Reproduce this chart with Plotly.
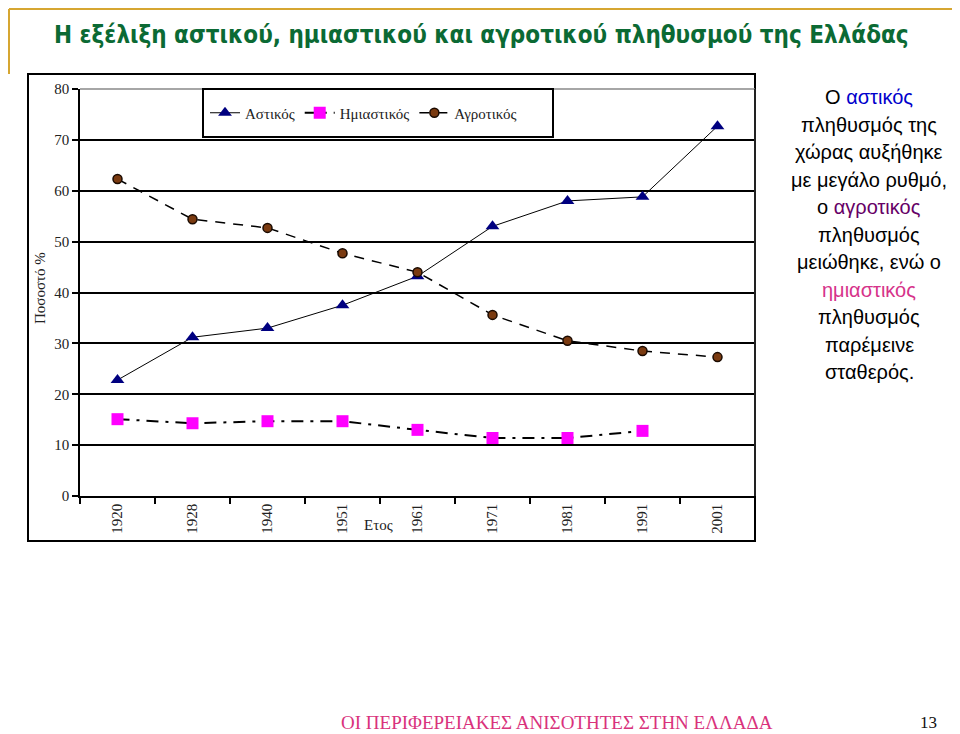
import plotly.graph_objects as go

years = ["1920", "1928", "1940", "1951", "1961", "1971", "1981", "1991", "2001"]
astikos = [22.8, 31.2, 33.0, 37.5, 43.2, 53.0, 58.0, 58.8, 72.7]
imiastikos = [15.1, 14.3, 14.7, 14.7, 13.0, 11.4, 11.4, 12.8, None]
agrotikos = [62.3, 54.4, 52.7, 47.7, 44.0, 35.6, 30.5, 28.5, 27.3]
y_ticks = [0, 10, 20, 30, 40, 50, 60, 70, 80]

OFF = 8  # page body margin
W, H = 960 - OFF, 734 - OFF
L, R, T, B = 80, 755, 89, 496  # page pixel coords of plot area


def px(x):
    return (x - L) / (R - L)


def py(y):
    return (B - y) / (B - T)


serif = "Liberation Serif, Times New Roman, serif"
sans = "Liberation Sans, Arial, sans-serif"

fig = go.Figure()
fig.add_trace(go.Scatter(
    x=years, y=astikos, name="Αστικός", mode="lines+markers",
    line=dict(color="black", width=1),
    marker=dict(symbol="triangle-up", size=12, color="#000080"),
))
fig.add_trace(go.Scatter(
    x=years, y=imiastikos, name="Ημιαστικός", mode="lines+markers",
    line=dict(color="black", width=2, dash="12px,7px,3px,7px"),
    marker=dict(symbol="square", size=12, color="#ff00ff"),
))
fig.add_trace(go.Scatter(
    x=years, y=agrotikos, name="Αγροτικός", mode="lines+markers",
    line=dict(color="black", width=1.5, dash="10px,8px"),
    marker=dict(symbol="circle", size=9, color="#7a3a10",
                line=dict(color="#1a0a00", width=1.5)),
))

shapes = [
    dict(type="line", xref="paper", yref="paper", x0=px(9), x1=px(955), y0=py(9), y1=py(9),
         line=dict(color="#d6a631", width=2)),
    dict(type="line", xref="paper", yref="paper", x0=px(9), x1=px(9), y0=py(9), y1=py(74),
         line=dict(color="#d6a631", width=2)),
    dict(type="rect", xref="paper", yref="paper", x0=px(28), x1=px(755), y0=py(74), y1=py(541),
         line=dict(color="black", width=2), layer="below"),
    dict(type="line", xref="paper", yref="paper", x0=0, x1=1, y0=1, y1=1,
         line=dict(color="#888888", width=1.5)),
    dict(type="line", xref="paper", yref="paper", x0=1, x1=1, y0=0, y1=1,
         line=dict(color="#222222", width=2)),
    dict(type="rect", xref="paper", yref="paper", x0=px(203), x1=px(553), y0=py(89), y1=py(137),
         line=dict(color="black", width=2), fillcolor="white", layer="above"),
]

annotations = [
    dict(text="<b>Η εξέλιξη αστικού, ημιαστικού και αγροτικού πληθυσμού της Ελλάδας</b>",
         x=px(481), y=py(35), xref="paper", yref="paper", showarrow=False,
         xanchor="center", yanchor="middle",
         font=dict(family="Liberation Sans Narrow, DejaVu Sans Condensed, Arial Narrow, sans-serif",
                   size=24, color="#0b6a34")),
    dict(text="Ποσοστό %", x=px(40), y=py(288), xref="paper", yref="paper", showarrow=False,
         textangle=-90, xanchor="center", yanchor="middle",
         font=dict(family=serif, size=15, color="#222222")),
    dict(text="Ετος", x=px(378), y=py(525), xref="paper", yref="paper", showarrow=False,
         xanchor="center", yanchor="middle",
         font=dict(family=serif, size=15, color="#222222")),
    dict(text="ΟΙ ΠΕΡΙΦΕΡΕΙΑΚΕΣ ΑΝΙΣΟΤΗΤΕΣ ΣΤΗΝ ΕΛΛΑΔΑ", x=px(557), y=py(722),
         xref="paper", yref="paper", showarrow=False, xanchor="center", yanchor="middle",
         font=dict(family=serif, size=19, color="#d9327c")),
    dict(text="13", x=px(928), y=py(722), xref="paper", yref="paper", showarrow=False,
         xanchor="center", yanchor="middle",
         font=dict(family=serif, size=17, color="#111111")),
]

blue = "#0000cc"
purple = "#660066"
pink = "#d6338a"
side_lines = [
    f"Ο <span style='color:{blue}'>αστικός</span>",
    "πληθυσμός της",
    "χώρας αυξήθηκε",
    "με μεγάλο ρυθμό,",
    f"ο <span style='color:{purple}'>αγροτικός</span>",
    "πληθυσμός",
    "μειώθηκε, ενώ ο",
    f"<span style='color:{pink}'>ημιαστικός</span>",
    "πληθυσμός",
    "παρέμεινε",
    "σταθερός.",
]
for i, t in enumerate(side_lines):
    annotations.append(dict(
        text=t, x=px(869), y=py(97 + i * 27.5), xref="paper", yref="paper",
        showarrow=False, xanchor="center", yanchor="middle",
        font=dict(family=sans, size=20, color="black")))

fig.update_layout(
    width=W, height=H,
    margin=dict(l=L - OFF, r=960 - R, t=T - OFF, b=734 - B, pad=0),
    paper_bgcolor="white", plot_bgcolor="white",
    showlegend=True,
    legend=dict(orientation="h", x=px(205), y=py(113), xref="paper", yref="paper",
                xanchor="left", yanchor="middle",
                bgcolor="rgba(0,0,0,0)", borderwidth=0,
                font=dict(family=serif, size=15, color="#222222"),
                itemwidth=30, tracegroupgap=0),
    xaxis=dict(type="category", showgrid=False, showline=True, linecolor="black", linewidth=1.5,
               ticks="outside", tickson="boundaries", ticklen=6, tickcolor="black", tickwidth=1.5,
               tickangle=-90, tickfont=dict(family=serif, size=15, color="#222222"),
               range=[-0.5, len(years) - 0.5], zeroline=False),
    yaxis=dict(range=[0, 80], tickvals=y_ticks, showgrid=True, gridcolor="black", gridwidth=1.5,
               showline=True, linecolor="black", linewidth=1.5, ticks="outside", ticklen=6,
               tickcolor="black", tickwidth=1.5, zeroline=False,
               tickfont=dict(family=serif, size=15, color="#222222")),
    shapes=shapes,
    annotations=annotations,
)

fig.write_html("out.html")
